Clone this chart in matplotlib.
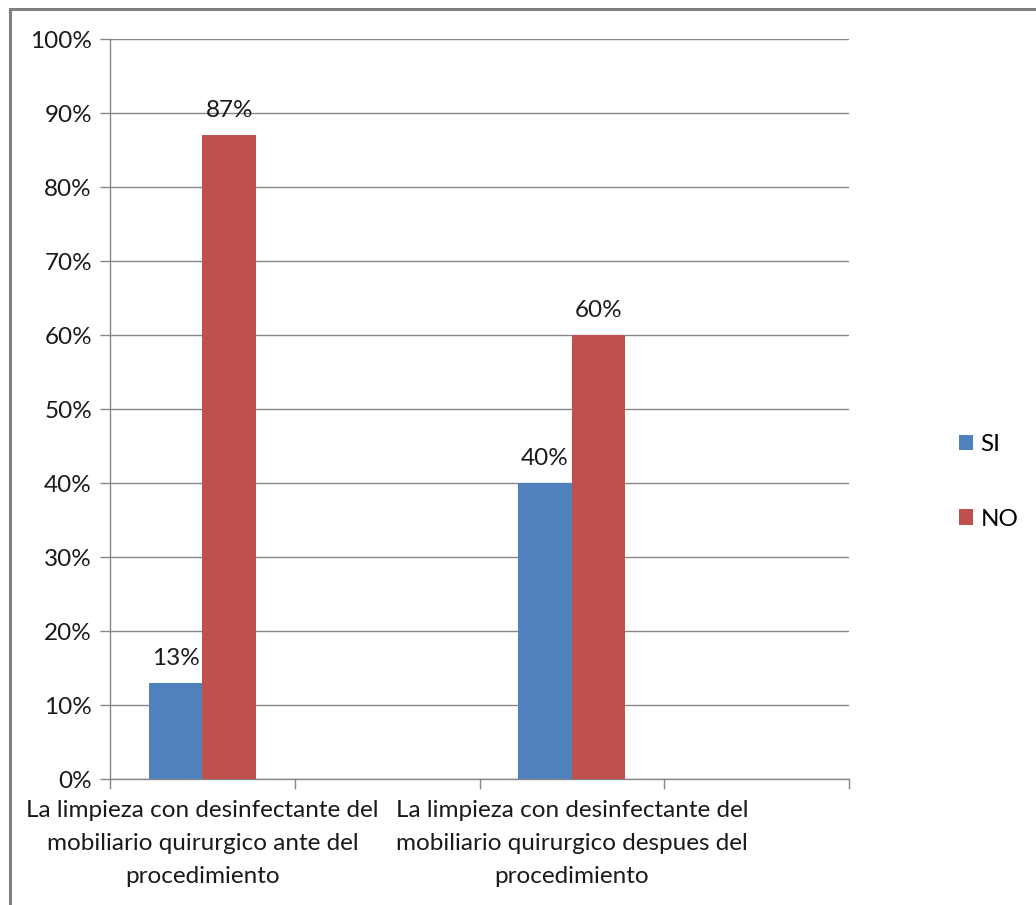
import matplotlib
matplotlib.use("Agg")
import matplotlib.pyplot as plt
import numpy as np
from matplotlib.patches import Rectangle

categories = [
    "La limpieza con desinfectante del\nmobiliario quirurgico ante del\nprocedimiento",
    "La limpieza con desinfectante del\nmobiliario quirurgico despues del\nprocedimiento",
]
series_names = ["SI", "NO"]
si_values = [13, 40]
no_values = [87, 60]
y_ticks = [0, 10, 20, 30, 40, 50, 60, 70, 80, 90, 100]
y_tick_labels = [f"{v}%" for v in y_ticks]

colors = ["#4F81BD", "#C0504D"]
grid_color = "#868686"
FONT = "Lato"
FS = 17.5

plt.rcParams["font.family"] = [FONT, "DejaVu Sans"]

fig = plt.figure(figsize=(10.36, 9.05), dpi=100)
ax = fig.add_axes([110 / 1036, 1 - 779 / 905, (849 - 110) / 1036, (779 - 39) / 905])

# Outer chart border
fig.patches.append(Rectangle((10 / 1036, -0.05), 1.2, 1 - 9 / 905 + 0.05,
                             transform=fig.transFigure, fill=False,
                             edgecolor="#808080", linewidth=2.2, zorder=0))

pos = np.arange(len(categories)) * 2.0
w = 0.29
bars_si = ax.bar(pos - w / 2, si_values, width=w, color=colors[0], label=series_names[0], zorder=3)
bars_no = ax.bar(pos + w / 2, no_values, width=w, color=colors[1], label=series_names[1], zorder=3)

for bars, vals in ((bars_si, si_values), (bars_no, no_values)):
    for b, v in zip(bars, vals):
        ax.annotate(f"{v}%", (b.get_x() + b.get_width() / 2, v), xytext=(0, 10),
                    textcoords="offset points", ha="center", va="bottom",
                    fontsize=FS, color="#1a1a1a")

ax.set_xlim(-0.5, 3.5)
ax.set_ylim(0, 100)
ax.set_yticks(y_ticks)
ax.set_yticklabels(y_tick_labels, fontsize=FS, color="#1a1a1a")
ax.yaxis.grid(True, color=grid_color, linewidth=1.0, zorder=0)
ax.set_axisbelow(True)

ax.set_xticks(pos)
ax.set_xticklabels(categories, fontsize=FS, color="#1a1a1a", linespacing=1.7)
ax.set_xticks(np.arange(-0.5, 3.6, 1.0), minor=True)
ax.tick_params(axis="x", which="major", length=0, pad=15)
ax.tick_params(axis="x", which="minor", length=7, color=grid_color, width=1.0)
ax.tick_params(axis="y", length=7, color=grid_color, width=1.0, pad=6)

for s in ("top", "right"):
    ax.spines[s].set_visible(False)
for s in ("left", "bottom"):
    ax.spines[s].set_color(grid_color)
    ax.spines[s].set_linewidth(1.0)

leg = fig.legend(handles=[bars_si, bars_no], labels=series_names,
                 loc="center left", bbox_to_anchor=(949 / 1036, 1 - 482 / 905),
                 frameon=False, fontsize=FS, handlelength=0.6, handleheight=0.6,
                 handletextpad=0.3, labelspacing=2.2, borderaxespad=0)

fig.savefig("out.png", dpi=100, facecolor="white")
